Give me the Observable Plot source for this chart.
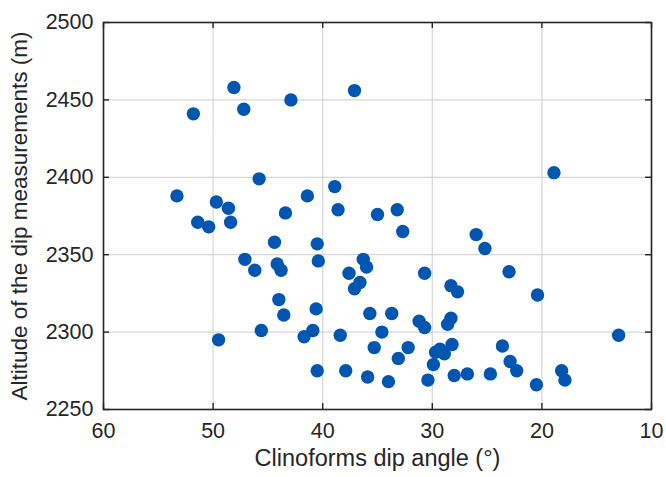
<!DOCTYPE html>
<html>
<head>
<meta charset="utf-8">
<script src="https://cdn.jsdelivr.net/npm/d3@7"></script>
<script src="https://cdn.jsdelivr.net/npm/@observablehq/plot@0.6"></script>
<style>
  html, body { margin: 0; padding: 0; background: #fff; }
  svg { font-family: "Liberation Sans", Arial, sans-serif; }
</style>
</head>
<body>
<div id="chart"></div>
<script>
const dipAngle = [
  48.1, 51.8, 47.2, 42.9, 37.1, 45.8, 53.3, 38.9, 41.4, 49.7,
  48.6, 43.4, 38.6, 35.0, 51.4, 48.4, 50.4, 18.9, 33.2, 32.7,
  26.0, 25.2, 30.7, 23.0, 28.3, 27.7, 20.4, 33.7, 31.2, 30.7,
  28.3, 28.6, 34.6, 13.0, 35.3, 32.2, 33.1, 28.2, 29.7, 28.9,
  29.9, 23.6, 22.9, 22.3, 34.0, 30.4, 28.0, 26.8, 24.7, 20.5,
  18.2, 17.9, 44.4, 40.5, 47.1, 40.4, 46.2, 44.15, 43.8, 36.3,
  36.0, 37.6, 36.6, 37.1, 44.0, 43.55, 40.6, 35.7, 45.6, 49.5,
  41.7, 40.9, 38.4, 40.5, 37.9, 35.9, 29.3
];
const altitude = [
  2458, 2441, 2444, 2450, 2456, 2399, 2388, 2394, 2388, 2384,
  2380, 2377, 2379, 2376, 2371, 2371, 2368, 2403, 2379, 2365,
  2363, 2354, 2338, 2339, 2330, 2326, 2324, 2312, 2307, 2303,
  2309, 2305, 2300, 2298, 2290, 2290, 2283, 2292, 2287, 2286,
  2279, 2291, 2281, 2275, 2268, 2269, 2272, 2273, 2273, 2266,
  2275, 2269, 2358, 2357, 2347, 2346, 2340, 2344, 2340, 2347,
  2342, 2338, 2332, 2328, 2321, 2311, 2315, 2312, 2301, 2295,
  2297, 2301, 2298, 2275, 2275, 2271, 2289
];
const xTicks = [60, 50, 40, 30, 20, 10];
const yTicks = [2250, 2300, 2350, 2400, 2450, 2500];
const xLabel = ["Clinoforms dip angle (°)"];
const yLabel = ["Altitude of the dip measurements (m)"];

const data = dipAngle.map((d, i) => ({angle: d, alt: altitude[i]}));

const W = 666, H = 477, mL = 103, mR = 15, mT = 22, mB = 68;
const frameW = W - mL - mR, frameH = H - mT - mB, tickLen = 6;
const ink = "#262626";

const chart = Plot.plot({
  width: W,
  height: H,
  marginLeft: mL,
  marginRight: mR,
  marginTop: mT,
  marginBottom: mB,
  style: {fontFamily: '"Liberation Sans", Arial, sans-serif', background: "#fff", color: ink},
  x: {domain: [60, 10]},
  y: {domain: [2250, 2500]},
  marks: [
    Plot.gridX(xTicks, {stroke: "#d6d6d6", strokeOpacity: 1, strokeWidth: 1.2}),
    Plot.gridY(yTicks, {stroke: "#d6d6d6", strokeOpacity: 1, strokeWidth: 1.2}),
    Plot.dot(data, {x: "angle", y: "alt", r: 6.7, fill: "#0056b1", stroke: "none"}),
    Plot.tickX(xTicks, {x: d => d, insetTop: frameH - tickLen, stroke: ink, strokeWidth: 1.4}),
    Plot.tickX(xTicks, {x: d => d, insetBottom: frameH - tickLen, stroke: ink, strokeWidth: 1.4}),
    Plot.tickY(yTicks, {y: d => d, insetRight: frameW - tickLen, stroke: ink, strokeWidth: 1.4}),
    Plot.tickY(yTicks, {y: d => d, insetLeft: frameW - tickLen, stroke: ink, strokeWidth: 1.4}),
    Plot.frame({stroke: ink, strokeWidth: 1.6}),
    Plot.axisX(xTicks, {anchor: "bottom", tickSize: 0, tickPadding: 13, fontSize: 21.5, tickFormat: d3.format("d"), label: null, color: ink}),
    Plot.axisY(yTicks, {anchor: "left", tickSize: 0, tickPadding: 10, fontSize: 21.5, tickFormat: d3.format("d"), label: null, color: ink}),
    Plot.text(xLabel, {frameAnchor: "bottom", dy: 56, fontSize: 23.5, fill: ink}),
    Plot.text(yLabel, {frameAnchor: "left", textAnchor: "middle", dx: -84, rotate: -90, fontSize: 22.5, fill: ink})
  ]
});
document.getElementById("chart").appendChild(chart);
</script>
</body>
</html>
